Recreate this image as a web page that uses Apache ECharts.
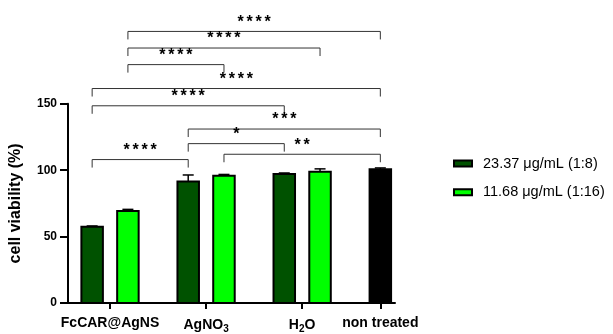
<!DOCTYPE html>
<html>
<head>
<meta charset="utf-8">
<script src="https://cdn.jsdelivr.net/npm/echarts@6/dist/echarts.min.js"></script>
<style>
  html, body { margin: 0; padding: 0; background: #fff; }
  #chart { width: 613px; height: 334px; }
</style>
</head>
<body>
<div id="chart"></div>
<script>
// Treatment groups shown on the x axis
const groups = ['FcCAR@AgNS', 'AgNO3', 'H2O', 'non treated'];
// Rich-text versions of the group labels (subscripts)
const groupLabels = ['FcCAR@AgNS', 'AgNO{sub|3}', 'H{sub|2}O', 'non treated'];

// Series names (legend)
const seriesNames = ['23.37 \u03bcg/mL (1:8)', '11.68 \u03bcg/mL (1:16)'];

// Cell viability (%) mean and SD per group, one array per dilution
const dose1Mean = [57.4, 91.4, 97.1];
const dose1Sd   = [0.6, 5.0, 0.8];
const dose2Mean = [69.2, 95.8, 98.8];
const dose2Sd   = [1.3, 1.0, 2.2];
const controlMean = [100.7];
const controlSd   = [1.0];

// Y axis ticks
const yTicks = [0, 50, 100, 150];

// Significance brackets: [from bar, to bar, height (% viability), label]
// bar index: 0/1 FcCAR@AgNS, 2/3 AgNO3, 4/5 H2O, 6 non treated
const bracketFrom  = [1, 1, 1, 0, 0, 2, 2, 3, 0];
const bracketTo    = [6, 5, 3, 6, 4, 6, 4, 6, 2];
const bracketY     = [204.5, 192, 179.5, 161.5, 148.5, 131, 120, 112, 108];
const bracketLabel = ['****', '****', '****', '****', '****', '***', '*', '**', '****'];

// ---- layout of bars along a continuous x scale ----
const BAR_GAP_BETWEEN_GROUPS = 0.686; // extra space between groups, in bar pitches
const barsPerGroup = [2, 2, 2, 1];
const barPos = [];        // x position of every bar in order
const groupCenters = [];
let cursor = 0;
barsPerGroup.forEach((n, g) => {
  const start = cursor;
  for (let i = 0; i < n; i++) { barPos.push(cursor); cursor += 1; }
  groupCenters.push((start + cursor - 1) / 2);
  cursor += BAR_GAP_BETWEEN_GROUPS;
});
// which bar positions belong to each series
const dose1Pos = [barPos[0], barPos[2], barPos[4]];
const dose2Pos = [barPos[1], barPos[3], barPos[5]];
const controlPos = [barPos[6]];

const FONT = 'Arial, "Liberation Sans", Helvetica, sans-serif';
const BAR_W = 21.5;
const STAR_PITCH = 9;

function barRender(params, api) {
  const x = api.value(0), m = api.value(1), sd = api.value(2);
  const base = api.coord([x, 0]);
  const top = api.coord([x, m]);
  const errTop = api.coord([x, m + sd]);
  const style = api.style();
  const capHalf = 5.5;
  return {
    type: 'group',
    children: [
      { type: 'line', shape: { x1: top[0], y1: top[1], x2: errTop[0], y2: errTop[1] },
        style: { stroke: '#000', lineWidth: 1.5 } },
      { type: 'line', shape: { x1: errTop[0] - capHalf, y1: errTop[1], x2: errTop[0] + capHalf, y2: errTop[1] },
        style: { stroke: '#000', lineWidth: 1.5 } },
      { type: 'rect', shape: { x: base[0] - BAR_W / 2, y: top[1], width: BAR_W, height: base[1] - top[1] },
        style: { fill: style.fill, stroke: '#000', lineWidth: 2 } }
    ]
  };
}

function zipData(pos, mean, sd) {
  return pos.map((p, i) => [p, mean[i], sd[i]]);
}

function bracketRender(params, api) {
  const i = params.dataIndex;
  const x1 = barPos[bracketFrom[i]];
  const x2 = barPos[bracketTo[i]];
  const y = bracketY[i];
  const a = api.coord([x1, y]);
  const b = api.coord([x2, y]);
  const drop = 8;
  const children = [
    { type: 'polyline',
      shape: { points: [[a[0], a[1] + drop], [a[0], a[1]], [b[0], b[1]], [b[0], b[1] + drop]] },
      style: { stroke: '#333', lineWidth: 1, fill: null } }
  ];
  // asterisks, evenly spaced and centred over the bracket
  const stars = bracketLabel[i].length;
  const mid = (a[0] + b[0]) / 2;
  for (let k = 0; k < stars; k++) {
    children.push({
      type: 'text',
      style: { x: mid + (k - (stars - 1) / 2) * STAR_PITCH, y: a[1] - 1, text: '*',
               align: 'center', verticalAlign: 'bottom',
               font: 'bold 16px ' + FONT, fill: '#000' }
    });
  }
  return { type: 'group', children: children };
}

const chart = echarts.init(document.getElementById('chart'), null, { renderer: 'canvas' });

chart.setOption({
  animation: false,
  backgroundColor: '#fff',
  grid: { left: 61, right: 218, top: 103.8, bottom: 25.5, containLabel: false },
  legend: {
    orient: 'vertical',
    left: 453,
    top: 156,
    padding: 0,
    itemWidth: 18,
    itemHeight: 6,
    itemGap: 13.7,
    icon: 'rect',
    data: seriesNames,
    itemStyle: { borderColor: '#000', borderWidth: 2 },
    textStyle: { fontFamily: FONT, fontSize: 14.5, color: '#000', padding: [0, 0, 0, 6] }
  },
  xAxis: {
    type: 'value',
    min: barPos[0] - 0.675,
    max: barPos[barPos.length - 1] + 0.41,
    splitLine: { show: false },
    axisLine: { show: true, onZero: false, lineStyle: { color: '#000', width: 2 } },
    axisTick: { show: true, customValues: groupCenters, length: 6, lineStyle: { color: '#000', width: 2 } },
    axisLabel: {
      show: true,
      customValues: groupCenters,
      margin: 13,
      formatter: function (v) {
        let best = 0;
        groupCenters.forEach((c, i) => { if (Math.abs(c - v) < Math.abs(groupCenters[best] - v)) best = i; });
        return groupLabels[best];
      },
      fontFamily: FONT, fontSize: 14, fontWeight: 'bold', color: '#000',
      rich: {
        sub: { fontFamily: FONT, fontSize: 10, fontWeight: 'bold', color: '#000', padding: [8, 0, 0, 0] }
      }
    }
  },
  yAxis: {
    type: 'value',
    min: 0,
    max: 150,
    interval: 50,
    name: 'cell viability (%)',
    nameLocation: 'middle',
    nameGap: 44,
    nameTextStyle: { fontFamily: FONT, fontSize: 16, fontWeight: 'bold', color: '#000' },
    splitLine: { show: false },
    axisLine: { show: true, onZero: false, lineStyle: { color: '#000', width: 2 } },
    axisTick: { show: true, length: 8, lineStyle: { color: '#000', width: 2 } },
    axisLabel: {
      margin: 11,
      fontFamily: FONT, fontSize: 12, fontWeight: 'bold', color: '#000',
      customValues: yTicks
    }
  },
  series: [
    {
      name: seriesNames[0], type: 'custom', renderItem: barRender, clip: false,
      itemStyle: { color: '#005200', borderColor: '#000', borderWidth: 2 },
      encode: { x: 0, y: 1 },
      data: zipData(dose1Pos, dose1Mean, dose1Sd)
    },
    {
      name: seriesNames[1], type: 'custom', renderItem: barRender, clip: false,
      itemStyle: { color: '#00ff00', borderColor: '#000', borderWidth: 2 },
      encode: { x: 0, y: 1 },
      data: zipData(dose2Pos, dose2Mean, dose2Sd)
    },
    {
      name: 'non treated', type: 'custom', renderItem: barRender, clip: false,
      itemStyle: { color: '#000', borderColor: '#000', borderWidth: 2 },
      encode: { x: 0, y: 1 },
      data: zipData(controlPos, controlMean, controlSd)
    },
    {
      name: 'significance', type: 'custom', renderItem: bracketRender, clip: false,
      silent: true,
      encode: { x: 0, y: 1 },
      data: bracketY.map((y, i) => [barPos[bracketFrom[i]], y])
    }
  ]
});
</script>
</body>
</html>
